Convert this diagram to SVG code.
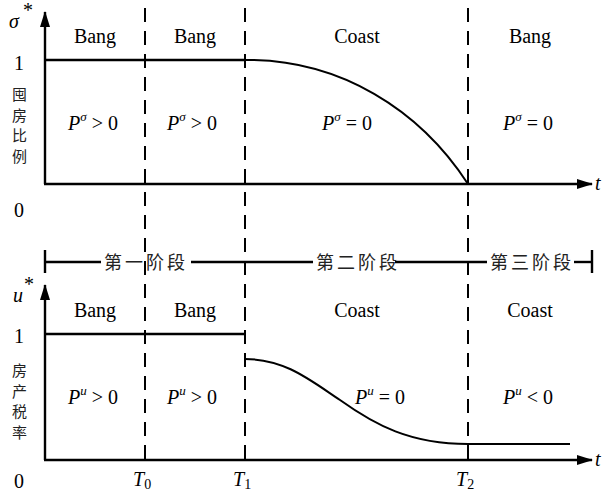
<svg xmlns="http://www.w3.org/2000/svg" width="602" height="495" viewBox="0 0 602 495">
<style>
.ax{stroke:#000;stroke-width:2.4;fill:none}
.cv{stroke:#000;stroke-width:2;fill:none}
.ds{stroke:#000;stroke-width:2;stroke-dasharray:14 9;fill:none}
.t{font-family:"Liberation Serif","Times New Roman",serif;font-size:20px;fill:#000}
.i{font-style:italic}
.cj{font-family:"Noto Sans CJK SC","Noto Sans",sans-serif;font-size:15px;fill:#222}
.st{font-family:"Noto Sans CJK SC","Noto Sans",sans-serif;font-size:18px;fill:#222;letter-spacing:3px}
</style>
<defs>
<marker id="ah" markerWidth="16" markerHeight="10" refX="15" refY="5" orient="auto" markerUnits="userSpaceOnUse">
<path d="M0,0 L16,5 L0,10 Z" fill="#000"/>
</marker>
</defs>
<g id="connectors">
<line class="ds" x1="145" y1="8" x2="145" y2="459"/>
<line class="ds" x1="245" y1="8" x2="245" y2="459"/>
<line class="ds" x1="468" y1="8" x2="468" y2="459"/>
</g>
<g id="top-plot">
<line class="ax" x1="45" y1="184" x2="45" y2="12" marker-end="url(#ah)"/>
<line class="ax" x1="44" y1="184" x2="592" y2="184" marker-end="url(#ah)"/>
<line class="ax" x1="45" y1="60" x2="245" y2="60"/>
<path class="cv" d="M245,60 C340,59 420,110 468,184"/>
<text class="t i" x="9" y="28">σ</text>
<text class="t" x="23" y="17" font-size="9">*</text>
<text class="t" x="14" y="70">1</text>
<text class="t" x="14" y="217">0</text>
<text class="t i" x="595" y="190">t</text>
<text class="cj" x="12" y="100">囤</text>
<text class="cj" x="12" y="120.5">房</text>
<text class="cj" x="12" y="141">比</text>
<text class="cj" x="12" y="161.5">例</text>
<text class="t" x="95" y="43" text-anchor="middle">Bang</text>
<text class="t" x="195" y="43" text-anchor="middle">Bang</text>
<text class="t" x="357" y="43" text-anchor="middle">Coast</text>
<text class="t" x="530" y="43" text-anchor="middle">Bang</text>
<text class="t" x="68" y="130"><tspan class="i">P</tspan><tspan class="i" font-size="13" dy="-9">σ</tspan><tspan dy="9"> &gt; 0</tspan></text>
<text class="t" x="167" y="130"><tspan class="i">P</tspan><tspan class="i" font-size="13" dy="-9">σ</tspan><tspan dy="9"> &gt; 0</tspan></text>
<text class="t" x="322" y="130"><tspan class="i">P</tspan><tspan class="i" font-size="13" dy="-9">σ</tspan><tspan dy="9"> = 0</tspan></text>
<text class="t" x="503" y="130"><tspan class="i">P</tspan><tspan class="i" font-size="13" dy="-9">σ</tspan><tspan dy="9"> = 0</tspan></text>
</g>
<g id="stages">
<line class="ax" x1="45" y1="250" x2="45" y2="273"/>
<line class="ax" x1="592" y1="250" x2="592" y2="273"/>
<line class="ax" x1="45" y1="262" x2="101" y2="262"/>
<line class="ax" x1="191" y1="262" x2="313" y2="262"/>
<line class="ax" x1="395" y1="262" x2="487" y2="262"/>
<line class="ax" x1="574" y1="262" x2="592" y2="262"/>
<text class="st" x="104" y="269">第一阶段</text>
<text class="st" x="316" y="269">第二阶段</text>
<text class="st" x="490" y="269">第三阶段</text>
</g>
<g id="bottom-plot">
<line class="ax" x1="45" y1="460" x2="45" y2="285" marker-end="url(#ah)"/>
<line class="ax" x1="44" y1="460" x2="592" y2="460" marker-end="url(#ah)"/>
<line class="ax" x1="45" y1="334" x2="245" y2="334"/>
<path class="cv" d="M245,359 C285,359 310,380 340,400 C375,425 410,444 468,444 L570,444"/>
<text class="t i" x="13" y="302">u</text>
<text class="t" x="24" y="291" font-size="9">*</text>
<text class="t" x="14" y="343">1</text>
<text class="t" x="14" y="488">0</text>
<text class="t i" x="595" y="466">t</text>
<text class="cj" x="12" y="376">房</text>
<text class="cj" x="12" y="396.5">产</text>
<text class="cj" x="12" y="417">税</text>
<text class="cj" x="12" y="437.5">率</text>
<text class="t" x="95" y="317" text-anchor="middle">Bang</text>
<text class="t" x="195" y="317" text-anchor="middle">Bang</text>
<text class="t" x="357" y="317" text-anchor="middle">Coast</text>
<text class="t" x="530" y="317" text-anchor="middle">Coast</text>
<text class="t" x="68" y="404"><tspan class="i">P</tspan><tspan class="i" font-size="13" dy="-9">u</tspan><tspan dy="9"> &gt; 0</tspan></text>
<text class="t" x="167" y="404"><tspan class="i">P</tspan><tspan class="i" font-size="13" dy="-9">u</tspan><tspan dy="9"> &gt; 0</tspan></text>
<text class="t" x="355" y="404"><tspan class="i">P</tspan><tspan class="i" font-size="13" dy="-9">u</tspan><tspan dy="9"> = 0</tspan></text>
<text class="t" x="503" y="404"><tspan class="i">P</tspan><tspan class="i" font-size="13" dy="-9">u</tspan><tspan dy="9"> &lt; 0</tspan></text>
<text class="t i" x="133" y="486">T<tspan font-style="normal" font-size="14" dy="3">0</tspan></text>
<text class="t i" x="233" y="486">T<tspan font-style="normal" font-size="14" dy="3">1</tspan></text>
<text class="t i" x="456" y="486">T<tspan font-style="normal" font-size="14" dy="3">2</tspan></text>
</g>
</svg>
